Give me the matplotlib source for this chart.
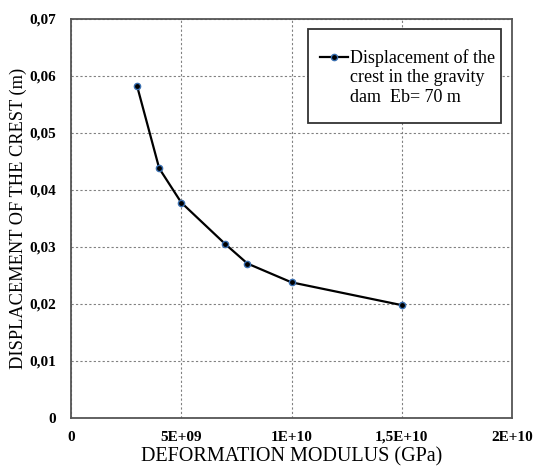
import numpy as np
import matplotlib.pyplot as plt
from matplotlib.ticker import FixedLocator
from matplotlib.legend_handler import HandlerLine2D
from matplotlib.patches import Rectangle

# data
modulus = [3e9, 4e9, 5e9, 7e9, 8e9, 1e10, 1.5e10]
displacement = [0.0582, 0.0438, 0.0378, 0.0305, 0.0271, 0.0238, 0.0198]
xticks = [0, 5e9, 1e10, 1.5e10, 2e10]
xlabels = ['0', '5E+09', '1E+10', '1,5E+10', '2E+10']
yticks = [0, 0.01, 0.02, 0.03, 0.04, 0.05, 0.06, 0.07]
ylabels = ['0', '0,01', '0,02', '0,03', '0,04', '0,05', '0,06', '0,07']

plt.rcParams['font.family'] = ['Liberation Serif', 'DejaVu Serif']


# legend handle sits on the first line of the label, not in the middle
class TopLine(HandlerLine2D):
    def create_artists(self, legend, orig_handle, xdescent, ydescent,
                       width, height, fontsize, trans):
        arts = super().create_artists(legend, orig_handle, xdescent, ydescent,
                                      width, height, fontsize, trans)
        for a in arts:
            a.set_ydata(np.asarray(a.get_ydata()) + 1.15 * fontsize)
        return arts


fig = plt.figure(figsize=(5.34, 4.69), dpi=100)
ax = fig.add_axes([71/534, 1 - 418/469, 441/534, 399/469])

line, = ax.plot(modulus, displacement, color='black', lw=1.6, marker='o', ms=4.5,
                mfc='black', mec='#3a6fb0', mew=1.0,
                label='Displacement of the\ncrest in the gravity\ndam  Eb= 70 m')

ax.set_xlim(0, 2e10)
ax.set_ylim(0, 0.07)
ax.xaxis.set_major_locator(FixedLocator(xticks))
ax.yaxis.set_major_locator(FixedLocator(yticks))
ax.set_xticklabels(xlabels, fontweight='bold', fontsize=11)
ax.set_yticklabels(ylabels, fontweight='bold', fontsize=11)
ax.tick_params(axis='x', length=0, pad=9)
ax.tick_params(axis='y', length=0, pad=10.5)
ax.grid(True, ls=(0, (2, 2)), color='#808080', lw=0.8)

for s in ax.spines.values():
    s.set_color('#555555')
    s.set_linewidth(1.3)

ax.set_xlabel('DEFORMATION MODULUS (GPa)', fontsize=14.5, labelpad=3)
ax.set_ylabel('DISPLACEMENT OF THE CREST (m)', fontsize=13.2, labelpad=1.5)

# legend box
ax.add_patch(Rectangle((0.537, 0.739), 0.438, 0.236, transform=ax.transAxes,
                       facecolor='white', edgecolor='#333333', lw=1.3, zorder=4))
leg = ax.legend(handler_map={line: TopLine()}, loc='upper left',
                bbox_to_anchor=(0.537, 0.957), borderaxespad=0, fontsize=13,
                frameon=False, handlelength=1.55, handletextpad=0.1,
                borderpad=0.7, labelspacing=0.2)
leg.set_zorder(5)

fig.savefig('out.png', dpi=100)
